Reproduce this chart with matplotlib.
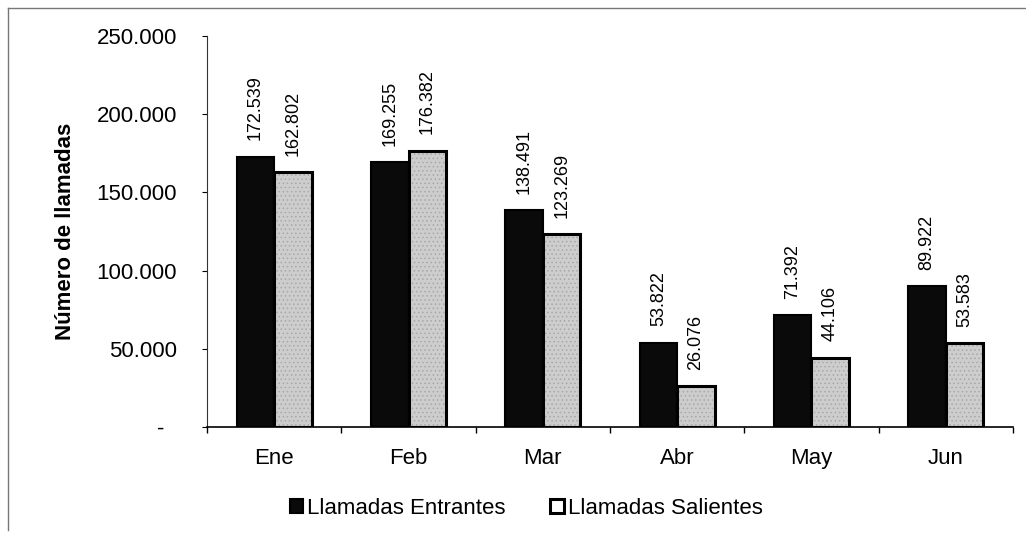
import matplotlib
matplotlib.use("Agg")
import matplotlib.pyplot as plt
from matplotlib.lines import Line2D
import numpy as np

meses = ["Ene", "Feb", "Mar", "Abr", "May", "Jun"]
entrantes = [172539, 169255, 138491, 53822, 71392, 89922]
salientes = [162802, 176382, 123269, 26076, 44106, 53583]
yticks = [0, 50000, 100000, 150000, 200000, 250000]

plt.rcParams['font.family'] = ['Liberation Sans', 'DejaVu Sans']
plt.rcParams['hatch.linewidth'] = 0.6


def miles(v):
    # formato contable: separador de miles con punto, cero como guion
    if v == 0:
        return "-  "
    return f"{v:,.0f}".replace(",", ".")


fig = plt.figure(figsize=(10.26, 5.35), dpi=100)
ax = fig.add_axes([0.2018, 0.2019, 0.7855, 0.7308])

x = np.arange(len(meses))
w = 0.28
b1 = ax.bar(x - w / 2, entrantes, w, color="#0a0a0a", edgecolor="#000000",
            linewidth=1.5, label="Llamadas Entrantes")
# relleno punteado de las salientes
ax.bar(x + w / 2, salientes, w, color="#cdcdcd", edgecolor="#a8a8a8",
       hatch="....", linewidth=0)
b2 = ax.bar(x + w / 2, salientes, w, facecolor="none", edgecolor="#000000",
            linewidth=2.2, label="Llamadas Salientes")

for i in range(len(meses)):
    ax.annotate(miles(entrantes[i]), (x[i] - w / 2, entrantes[i]),
                xytext=(0, 12), textcoords="offset points", rotation=90,
                ha="center", va="bottom", fontsize=13)
    ax.annotate(miles(salientes[i]), (x[i] + w / 2, salientes[i]),
                xytext=(0, 12), textcoords="offset points", rotation=90,
                ha="center", va="bottom", fontsize=13)

ax.set_xlim(-0.5, len(meses) - 0.5)
ax.set_ylim(0, 250000)
ax.set_yticks(yticks)
ax.set_yticklabels([miles(v) for v in yticks], fontsize=16)
ax.set_xticks(x)
ax.set_xticklabels(meses, fontsize=16)
ax.set_xticks(np.arange(len(meses) + 1) - 0.5, minor=True)
ax.tick_params(axis="x", which="major", length=0, pad=15)
ax.tick_params(axis="x", which="minor", length=4.5, width=1, direction="out")
ax.tick_params(axis="y", length=3.6, width=0.8, pad=18)

for s in ["top", "right"]:
    ax.spines[s].set_visible(False)
ax.spines["left"].set_linewidth(0.8)
ax.spines["left"].set_color("#333333")
ax.spines["bottom"].set_linewidth(1.2)

ax.set_ylabel("Número de llamadas", fontsize=16, fontweight="bold")
ax.yaxis.set_label_coords(-0.162, 0.5)

fig.legend(handles=[b1, b2], loc="center", bbox_to_anchor=(0.513, 0.05),
           ncol=2, frameon=False, fontsize=16, handlelength=0.6,
           handleheight=0.6, handletextpad=0.2, columnspacing=2.0)

# marco del recorte
fig.add_artist(Line2D([8 / 1026, 1.0], [1 - 8 / 535, 1 - 8 / 535],
                      transform=fig.transFigure, color="#777777", lw=1))
fig.add_artist(Line2D([8 / 1026, 8 / 1026], [1 - 8 / 535, 0.01],
                      transform=fig.transFigure, color="#777777", lw=1))

fig.savefig("out.png", dpi=100)
